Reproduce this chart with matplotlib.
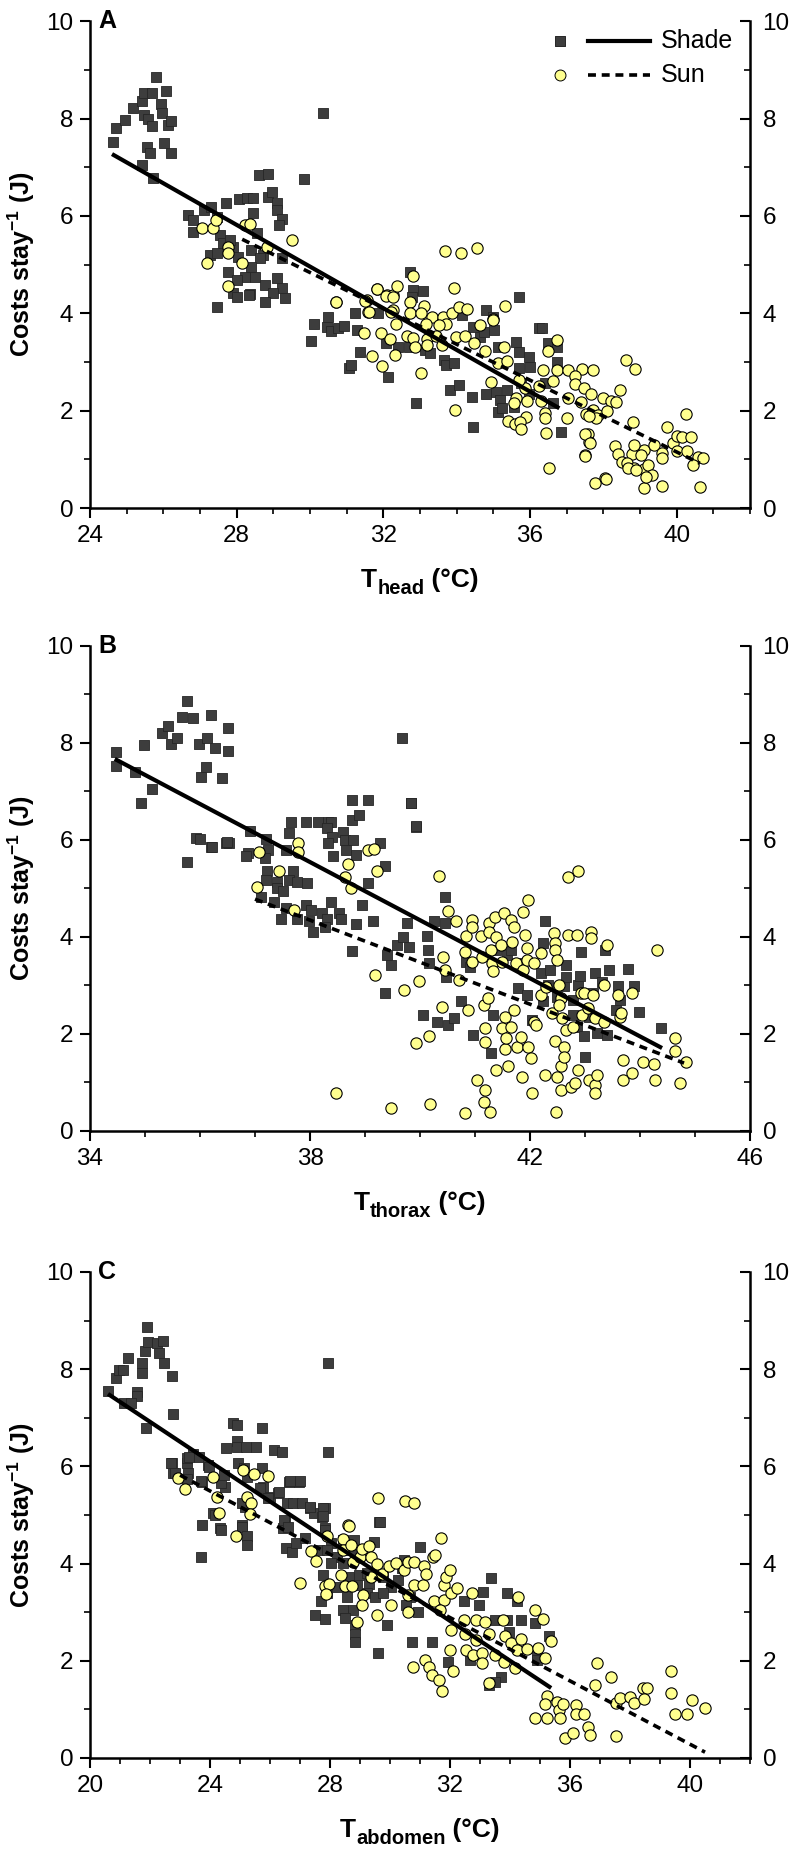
import numpy as np
import matplotlib
matplotlib.use("Agg")
import matplotlib.pyplot as plt
from matplotlib.ticker import MultipleLocator

plt.rcParams['font.family'] = ['Liberation Sans', 'DejaVu Sans']
plt.rcParams['mathtext.fontset'] = 'custom'
plt.rcParams['mathtext.rm'] = 'Liberation Sans'
plt.rcParams['mathtext.bf'] = 'Liberation Sans:bold'
plt.rcParams['mathtext.it'] = 'Liberation Sans:italic'

# ---------------- data ----------------
A_shade = [(24.63,7.52),(24.71,7.80),(24.95,7.97),(25.18,8.21),(25.41,8.36),(25.47,8.52),(25.69,8.52),(25.80,8.85),
 (26.07,8.56),(25.94,8.30),(25.96,8.11),(25.47,8.07),(25.58,8.00),(25.69,7.84),(26.13,7.86),(26.21,7.95),(25.55,7.41),
 (25.64,7.29),(26.02,7.50),(26.21,7.29),(25.41,7.04),(25.73,6.77),(30.36,8.11),(29.84,6.76),
 (26.68,6.02),(26.82,5.91),(26.82,5.67),(27.10,6.12),(27.30,6.18),(27.45,5.98),(27.70,6.26),(28.05,6.34),(28.28,6.36),
 (28.45,6.36),(28.60,6.84),(28.86,6.86),(28.86,6.39),(28.95,6.50),(29.10,6.26),(29.10,6.12),(29.23,5.93),(29.16,5.81),
 (28.45,6.05),(28.55,5.65),(27.55,5.61),(27.64,5.44),(27.90,5.36),(27.82,5.50),(28.04,5.15),(27.27,5.19),(27.45,5.24),
 (28.40,5.30),(28.73,5.19),(28.64,5.13),(29.23,5.13),(28.40,4.95),(27.77,4.85),(28.23,4.75),(28.50,4.75),(29.10,4.72),
 (28.00,4.68),(28.77,4.58),(29.23,4.52),(27.90,4.41),(28.36,4.39),(28.99,4.41),(29.32,4.31),(28.00,4.33),(28.77,4.23),
 (27.45,4.13),(28.34,4.37),
 (30.10,3.79),(30.04,3.44),(30.49,3.92),(30.46,3.72),(30.58,3.63),(30.75,3.69),(30.94,3.74),(31.24,4.00),(31.28,3.65),
 (31.36,3.21),(31.07,2.87),(31.11,2.94),(32.13,2.70),(31.85,4.00),(32.06,3.38),(32.40,3.31),(32.70,3.31),(32.72,4.85),
 (32.82,4.48),(33.09,4.46),(32.79,4.34),(33.13,3.24),(33.28,3.18),(33.65,3.05),(33.72,2.94),(33.93,2.97),(33.82,2.42),
 (34.06,2.53),(32.89,2.15),(34.14,3.96),(34.45,3.72),(34.64,3.52),(34.79,4.07),(35.00,3.93),(35.03,3.66),(34.74,3.62),
 (35.13,3.31),(34.45,1.66),(34.43,2.29),(34.79,2.35),(35.08,2.39),(35.37,2.42),(35.18,2.22),(35.13,1.98),(35.23,2.05),
 (35.71,4.34),(35.62,3.42),(35.71,3.21),(35.96,3.11),(36.00,2.90),(35.71,2.87),(36.25,3.69),(36.49,3.38),(36.74,3.31),
 (36.74,3.00),(36.40,2.56),(35.76,2.56),(35.96,2.35),(35.57,2.08),(36.85,1.57),(36.64,2.15),(36.33,3.70)]

A_sun = [(27.05,5.76),(27.36,5.76),(27.43,5.91),(27.20,5.03),(27.77,5.36),(27.77,5.24),(27.77,4.56),(28.14,5.03),
 (28.23,5.81),(28.36,5.83),(28.84,5.36),(29.52,5.50),(30.71,4.23),(31.55,4.27),(31.58,4.02),(31.83,4.50),(32.10,4.37),
 (32.26,4.07),(32.26,4.37),
 (33.67,5.28),(34.11,5.24),(34.55,5.35),(32.81,4.77),(32.38,4.57),(31.82,4.49),(32.06,4.35),(32.26,4.34),(33.93,4.52),
 (35.31,4.15),(30.70,4.24),(31.51,4.26),(31.60,4.02),(32.21,4.03),(32.72,4.24),(32.73,4.01),(33.11,4.15),(33.02,4.00),
 (33.33,3.93),(33.62,3.92),(33.86,4.00),(34.06,4.13),(34.28,4.08),(34.64,3.77),(35.00,3.89),(34.98,3.86),(32.34,3.78),
 (33.16,3.78),(33.72,3.79),(33.52,3.76),(31.46,3.60),(31.94,3.60),(32.18,3.48),(32.65,3.53),(32.82,3.50),(33.18,3.48),
 (33.43,3.53),(33.99,3.52),(34.22,3.53),(32.87,3.31),(33.20,3.35),(33.59,3.35),(34.48,3.39),(34.77,3.23),(35.28,3.31),
 (31.70,3.13),(32.31,3.14),(31.97,2.92),(33.04,2.78),(35.13,2.98),(35.37,3.03),(36.74,3.46),(36.49,3.22),(36.35,2.83),
 (36.74,2.83),(37.03,2.83),(37.42,2.85),(37.73,2.83),(37.22,2.71),(36.62,2.61),(37.22,2.55),(36.25,2.51),(35.86,2.46),
 (35.71,2.63),(34.94,2.58),(37.47,2.46),(37.03,2.27),(37.66,2.35),(38.00,2.27),(38.20,2.20),(38.44,2.42),(38.34,2.17),
 (37.40,2.17),(35.62,2.27),(35.93,2.20),(36.30,2.20),(35.55,2.15),(36.40,1.96),(37.52,1.94),(37.71,2.01),(37.86,1.91),
 (37.81,1.85),(38.10,1.99),(37.61,1.89),(33.96,2.01),(35.39,1.79),(35.89,1.88),(36.40,1.84),(35.60,1.72),(35.73,1.77),
 (35.76,1.62),(36.43,1.55),(37.00,1.84),(37.59,1.52),(37.61,1.35),(37.49,1.08),(36.51,0.83),(38.61,3.04),(38.86,2.85),
 (38.80,1.76),(38.32,1.28),(38.39,1.12),(38.52,0.95),(38.78,1.12),(39.12,1.20),(39.03,1.09),(38.64,0.92),(38.83,0.82),
 (39.12,0.80),(39.22,0.88),(39.37,1.29),(39.61,1.14),(39.74,1.66),(39.90,1.33),(40.00,1.48),(40.14,1.46),(40.39,1.46),
 (40.26,1.94),(40.00,1.17),(40.29,1.17),(39.61,1.02),(40.58,1.04),(40.73,1.02),(40.44,0.88),(39.32,0.68),(38.05,0.61),
 (37.77,0.51),(38.07,0.59),(39.10,0.41),(39.60,0.45),(40.63,0.43),(39.16,0.63),(38.67,0.82),(38.90,0.78),(38.83,1.29),
 (37.50,1.07),(37.50,1.52),(37.64,1.34)]

B_shade = [(34.47,7.81),(34.47,7.53),(34.82,7.40),(34.98,7.96),(34.93,6.76),(35.13,7.05),(35.31,8.21),(35.42,8.35),
 (35.47,7.98),(35.58,8.10),(35.67,8.54),(35.76,8.87),(35.87,8.52),(35.98,7.98),(36.13,8.10),(36.20,8.58),(36.27,7.90),
 (36.51,8.31),(36.51,7.84),(36.11,7.51),(36.02,7.30),(36.40,7.28),(35.93,6.04),(35.76,5.55),(36.20,5.86),(36.47,5.94),
 (36.53,5.94),(39.67,8.10),(39.84,6.76),(39.93,6.27),
 (36.21,5.86),(36.49,5.95),(36.00,6.01),(36.91,6.19),(36.88,5.74),(36.84,5.66),(37.20,6.01),(37.23,5.79),(37.18,5.62),
 (37.57,5.79),(37.66,6.36),(37.62,6.14),(37.92,6.36),(38.14,6.36),(38.32,6.38),(38.39,6.36),(38.30,6.24),(38.40,6.07),
 (38.32,5.93),(38.60,6.17),(38.63,6.00),(38.79,5.99),(38.76,6.41),(38.89,6.52),(38.77,6.83),(39.06,6.83),(39.83,6.76),
 (39.92,6.29),(38.66,5.79),(38.84,5.69),(38.42,5.66),(39.27,5.93),(39.36,5.46),(37.22,5.35),(37.20,5.17),(37.40,5.14),
 (37.69,5.35),(37.62,5.17),(37.77,5.14),(37.40,5.00),(37.51,4.94),(37.95,5.11),(37.10,4.83),(37.35,4.73),(37.56,4.59),
 (37.48,4.38),(37.77,4.38),(37.92,4.66),(38.01,4.56),(37.98,4.32),(38.05,4.11),(38.21,4.49),(38.30,4.38),(38.27,4.21),
 (38.39,4.73),(38.53,4.49),(38.56,4.38),(38.84,4.27),(38.94,4.66),(39.05,5.11),(39.14,4.32),(38.76,3.72),(39.36,2.84),
 (39.40,3.63),(39.47,3.42),(39.59,3.83),(39.69,3.99),(39.80,3.80),(39.77,4.28),(40.12,4.01),(40.14,3.73),(40.16,3.46),
 (40.25,4.32),(40.45,4.83),(40.45,4.28),(40.48,3.18),(40.06,2.39),(40.31,2.25),(40.51,2.19),(40.61,2.32),(40.74,2.67),
 (40.97,1.98),(41.29,1.60),(41.32,2.39),(40.84,3.49),(40.90,3.39),(41.39,3.73),(41.58,3.63),(41.65,3.73),(41.78,2.94),
 (41.84,3.46),(41.94,2.80),(42.23,3.87),(42.27,4.32),(42.20,3.25),(42.36,3.32),(42.33,3.01),(42.23,2.67),(42.04,2.29),
 (42.49,2.77),(42.62,2.98),(42.66,3.42),(42.66,3.18),(42.79,2.70),(42.88,3.01),(42.92,3.68),(42.79,2.39),(42.85,2.15),
 (42.98,1.95),(43.00,1.53),(43.14,2.84),(43.18,3.25),(43.30,3.08),(43.44,3.32),(43.37,3.73),(43.08,2.36),(43.21,2.01),
 (43.40,1.98),(43.60,2.98),(43.63,2.70),(43.56,2.50),(43.79,3.33),(43.89,2.98),(43.99,2.46),(44.38,2.13),(42.90,3.20)]

B_sun = [(37.07,5.76),(37.04,5.02),(37.43,5.35),(37.70,4.56),(37.79,5.93),(37.79,5.75),(38.63,5.23),(38.69,5.51),
 (38.75,5.00),(39.05,5.79),(39.16,5.81),(39.21,5.36),(38.47,0.78),(39.18,3.22),(39.47,0.47),(39.70,2.91),(39.93,1.81),
 (39.99,3.10),(40.17,1.96),(40.19,0.56),(40.35,5.26),(40.50,4.54),(40.42,3.59),(40.45,3.32),(40.40,2.56),(40.66,4.32),
 (40.71,3.11),(40.82,0.37),(40.84,4.01),(40.82,3.70),(40.87,2.49),(40.94,4.35),(40.94,4.21),(40.94,3.49),(41.03,1.05),
 (41.10,4.01),(41.13,3.59),(41.16,2.60),(41.19,2.12),(41.19,1.84),(41.23,2.74),(41.19,0.85),(41.16,0.60),(41.27,0.40),
 (41.26,4.28),(41.25,4.11),(41.29,3.73),(41.31,3.46),(41.32,3.29),(41.36,4.42),(41.38,3.99),(41.39,1.26),(41.47,3.83),
 (41.49,3.49),(41.52,4.49),(41.55,2.36),(41.49,2.12),(41.55,1.70),(41.56,1.91),(41.60,1.33),(41.65,4.35),(41.65,2.15),
 (41.68,3.90),(41.71,4.21),(41.75,3.46),(41.71,2.49),(41.77,1.74),(41.84,1.94),(41.86,1.12),(41.88,4.52),(41.88,3.32),
 (41.91,4.04),(41.94,3.77),(41.97,4.76),(41.94,3.53),(41.96,1.74),(42.01,1.50),(42.03,0.78),(42.07,3.46),(42.07,2.25),
 (42.10,2.19),(42.20,3.66),(42.20,2.80),(42.27,1.15),(42.29,2.97),(42.40,2.43),(42.43,4.08),(42.46,3.87),(42.46,3.73),
 (42.45,1.86),(42.49,3.53),(42.49,1.12),(42.47,0.40),(42.53,3.01),(42.56,2.74),(42.53,2.60),(42.56,1.33),(42.56,0.85),
 (42.59,2.32),(42.62,1.74),(42.62,1.53),(42.66,2.08),(42.69,4.04),(42.69,5.24),(42.75,0.91),(42.79,2.15),(42.82,0.98),
 (42.85,4.04),(42.88,5.35),(42.88,1.26),(42.92,2.84),(42.95,2.39),(42.98,2.84),(43.05,2.53),(43.08,1.05),(43.11,4.11),
 (43.11,3.97),(43.14,2.80),(43.18,2.32),(43.18,0.95),(43.18,0.78),(43.21,1.15),(43.34,3.01),(43.34,2.25),(43.40,3.83),
 (43.60,2.80),(43.63,2.36),(43.66,2.43),(43.69,1.46),(43.69,1.05),(43.86,2.84),(43.86,1.19),(44.05,1.43),(44.25,1.39),
 (44.28,1.05),(44.31,3.73),(44.64,1.91),(44.64,1.64),(44.73,0.98),(44.83,1.43)]

C_shade = [(20.60,7.55),(20.87,7.82),(20.97,7.98),(21.10,7.98),(21.27,8.23),(21.57,7.53),(21.57,7.45),(21.13,7.30),
 (21.37,7.30),(21.73,8.13),(21.73,7.92),(21.83,8.37),(21.90,8.87),(21.93,8.56),(22.23,8.54),(22.30,8.33),(22.43,8.58),
 (22.47,8.13),(22.73,7.86),(22.77,7.08),(21.87,6.79),(27.93,8.13),(22.73,6.07),(22.77,5.86),(23.23,6.07),(23.27,5.86),
 (23.23,6.17),(23.43,6.26),(23.63,6.19),(23.73,5.68),(23.93,6.03),(23.73,4.79),(24.10,5.04),(24.33,4.73),(24.50,5.58),
 (24.53,6.38),(24.77,6.89),(24.90,6.85),(24.90,6.52),(24.90,6.40),(25.20,6.40),(25.53,6.40),(25.73,6.79),(24.93,6.07),
 (25.23,5.78),(25.07,4.79),(25.17,5.16),(25.73,5.97),(25.77,5.58),(26.00,5.37),(26.13,6.34),(26.40,6.30),(26.27,5.45),
 (26.63,5.68),(26.97,5.68),(26.57,5.25),(26.77,5.25),(27.07,5.25),(27.33,5.14),(27.47,5.04),(27.83,5.14),(27.73,4.96),
 (27.93,6.30),(26.50,4.86),(26.43,4.73),(27.83,4.73),(29.63,4.86),
 (22.70,6.06),(23.30,6.20),(22.83,5.86),(23.23,5.75),(23.69,5.69),(23.95,5.99),(25.14,5.96),(24.35,5.65),(24.48,5.82),
 (25.07,5.24),(25.67,5.55),(25.93,5.34),(26.30,5.48),(26.66,5.69),(26.99,5.69),(27.32,5.16),(27.78,5.14),(27.75,4.97),
 (23.69,4.13),(24.35,4.69),(25.07,4.75),(25.23,4.57),(25.23,4.38),(24.15,5.00),(26.46,4.90),(26.59,4.76),(26.52,4.33),
 (26.72,4.23),(26.85,4.43),(27.18,4.52),(27.84,4.69),(28.04,4.42),(27.64,4.28),(27.91,4.28),(28.44,4.48),(28.80,4.48),
 (29.46,4.45),(29.66,4.86),(28.70,4.28),(28.24,4.14),(28.04,4.01),(27.78,3.77),(28.44,4.01),(28.63,3.73),(28.96,3.77),
 (29.23,3.80),(29.29,3.59),(29.75,3.73),(30.02,3.52),(30.25,3.66),(27.91,3.39),(28.24,3.52),(28.57,3.32),(28.90,3.56),
 (29.23,3.39),(29.49,3.32),(29.75,3.39),(27.71,3.22),(28.44,3.05),(28.77,3.05),(27.51,2.94),(27.84,2.85),(28.50,2.87),
 (28.83,2.74),(28.83,2.56),(28.83,2.39),(29.89,2.74),(29.60,2.15),(30.74,2.39),(31.40,2.39),(31.00,4.35),(30.48,4.07),
 (30.41,3.90),(30.68,3.32),(30.54,3.15),(30.94,3.01),(31.93,1.98),(32.46,3.22),(32.98,3.15),(33.11,3.42),(33.38,3.70),
 (33.90,3.39),(34.23,3.22),(33.51,2.84),(33.90,2.84),(34.37,2.84),(34.83,2.77),(35.29,2.50),(33.97,2.60),(32.65,2.02),
 (33.71,1.67),(33.51,1.57),(33.31,1.50),(34.89,2.15),(34.89,2.02)]

C_sun = [(22.93,5.76),(23.17,5.53),(24.10,5.78),(24.23,5.37),(24.30,5.04),(25.10,5.93),(25.23,5.37),(25.37,5.25),
 (25.33,5.02),(25.47,5.84),(25.93,5.80),(28.60,4.79),(29.60,5.35),(30.50,5.29),(30.80,5.25),(24.85,4.57),
 (27.01,3.61),(27.91,4.57),(28.63,4.77),(28.44,4.50),(28.44,4.28),(28.70,4.38),(27.38,4.25),(27.54,4.06),(27.84,3.53),
 (27.97,3.59),(27.88,3.38),(28.37,3.77),(28.50,3.53),(28.74,3.53),(28.76,4.04),(29.00,4.14),(29.07,4.31),(29.29,4.36),
 (29.36,4.14),(29.09,3.35),(29.07,3.15),(28.90,2.80),(29.36,3.73),(29.58,4.00),(29.73,3.79),(29.95,3.94),(30.02,3.15),
 (29.56,2.94),(30.21,4.02),(30.48,3.87),(30.61,4.04),(30.81,4.04),(30.61,3.35),(30.61,3.01),(30.81,3.56),(31.11,3.56),
 (31.14,3.94),(31.20,3.79),(31.44,4.14),(31.51,4.17),(31.70,4.53),(31.47,3.22),(31.80,3.25),(31.80,3.56),(31.86,3.73),
 (31.99,3.87),(32.02,3.39),(32.23,3.49),(31.66,3.05),(30.78,1.88),(31.18,2.02),(31.31,1.88),(31.40,1.71),(31.64,1.60),
 (31.73,1.37),(32.02,2.63),(31.99,2.22),(32.10,1.78),(32.46,2.84),(32.49,2.56),(32.72,3.39),(32.85,2.84),(32.85,2.43),
 (32.52,2.22),(32.76,2.12),(33.05,2.15),(33.05,1.95),(33.18,2.80),(33.31,2.56),(33.51,2.12),(33.77,2.84),(33.84,2.50),
 (33.81,1.98),(34.04,2.36),(34.23,2.22),(34.27,3.32),(34.37,2.44),(34.56,2.24),(34.17,1.85),(33.31,1.54),(34.83,3.05),
 (35.09,2.85),(34.93,2.26),(35.16,2.05),(35.35,2.41),(35.22,1.28),(35.18,1.12),(35.55,1.16),(35.62,0.99),(35.75,1.11),
 (34.83,0.83),(35.22,0.82),(35.66,0.82),(36.21,1.09),(36.19,0.91),(36.48,0.91),(36.61,0.64),(36.67,0.47),(35.82,0.41),
 (36.11,0.51),(36.90,1.95),(36.84,1.50),(37.37,1.66),(37.53,1.14),(37.53,0.45),(37.66,1.23),(38.00,1.26),(38.12,1.13),
 (38.43,1.43),(38.58,1.43),(38.48,1.21),(39.37,1.78),(39.37,1.33),(39.51,0.91),(39.90,0.91),(40.06,1.19),(40.50,1.02)]

# fitted regression lines (endpoints)
A_fit_shade_x = [24.6, 36.8]; A_fit_shade_y = [7.27, 2.05]
A_fit_sun_x = [28.15, 40.63]; A_fit_sun_y = [5.52, 0.92]
B_fit_shade_x = [34.45, 44.4]; B_fit_shade_y = [7.67, 1.71]
B_fit_sun_x = [37.0, 44.8]; B_fit_sun_y = [4.78, 1.40]
C_fit_shade_x = [20.6, 35.37]; C_fit_shade_y = [7.49, 1.44]
C_fit_sun_x = [23.0, 40.5]; C_fit_sun_y = [5.82, 0.12]

panel_letters = ['A', 'B', 'C']
x_subscripts = ['head', 'thorax', 'abdomen']
x_limits = [(24, 42), (34, 46), (20, 42)]
x_ticks = [[24, 28, 32, 36, 40], [34, 38, 42, 46], [20, 24, 28, 32, 36, 40]]
y_ticks = [0, 2, 4, 6, 8, 10]

shade_sets = [A_shade, B_shade, C_shade]
sun_sets = [A_sun, B_sun, C_sun]
fits = [((A_fit_shade_x, A_fit_shade_y), (A_fit_sun_x, A_fit_sun_y)),
        ((B_fit_shade_x, B_fit_shade_y), (B_fit_sun_x, B_fit_sun_y)),
        ((C_fit_shade_x, C_fit_shade_y), (C_fit_sun_x, C_fit_sun_y))]

# ---------------- figure ----------------
W, H = 798, 1855
fig = plt.figure(figsize=(W / 100, H / 100), dpi=100)
positions = [[0.1128, 0.7261, 0.8271, 0.2625],
             [0.1128, 0.3903, 0.8271, 0.2615],
             [0.1128, 0.0523, 0.8271, 0.2620]]

SQ_COLOR = '#3d3d3d'
SUN_COLOR = '#ffff8f'
FS = 17.5
DASH = (0, (2.2, 1.6))
renderer = fig.canvas.get_renderer()


def compound_xlabel(ax, sub):
    """T with a large bold subscript followed by (°C), centred under the axes."""
    pos = ax.get_position()
    cx = (pos.x0 + pos.x1) / 2 * W
    base = pos.y0 * H - 79
    parts = [('T', 19, 0), (sub, 14.5, -7), (' (°C)', 19, 0)]
    texts, widths = [], []
    for s, size, dy in parts:
        t = fig.text(0, 0, s, fontsize=size, fontweight='bold', ha='left', va='baseline')
        texts.append((t, dy))
        widths.append(t.get_window_extent(renderer).width)
    x = cx - sum(widths) / 2
    for (t, dy), w in zip(texts, widths):
        t.set_position((x / W, (base + dy) / H))
        x += w


for i in range(3):
    ax = fig.add_axes(positions[i])
    sh = np.array(shade_sets[i])
    su = np.array(sun_sets[i])
    ax.scatter(sh[:, 0], sh[:, 1], marker='s', s=62, c=SQ_COLOR,
               edgecolors='#262626', linewidths=0.6, zorder=2)
    ax.scatter(su[:, 0], su[:, 1], marker='o', s=66, c=SUN_COLOR,
               edgecolors='black', linewidths=0.8, zorder=3)
    (fsx, fsy), (fux, fuy) = fits[i]
    ax.plot(fsx, fsy, color='black', lw=3.0, solid_capstyle='butt', zorder=4)
    ax.plot(fux, fuy, color='black', lw=2.6, ls=DASH, zorder=4)

    ax.set_xlim(*x_limits[i])
    ax.set_ylim(0, 10)
    ax.set_xticks(x_ticks[i])
    ax.xaxis.set_minor_locator(MultipleLocator(1))
    ax.set_yticks(y_ticks)
    ax.yaxis.set_minor_locator(MultipleLocator(1))
    for s in ['left', 'bottom']:
        ax.spines[s].set_linewidth(1.8)
    ax.spines['top'].set_visible(False)
    ax.spines['right'].set_visible(False)
    ax.tick_params(axis='both', which='major', direction='out', length=7,
                   width=1.5, labelsize=FS, pad=5)
    ax.tick_params(axis='both', which='minor', direction='out', length=4, width=1.2)

    ax2 = ax.twinx()
    ax2.set_ylim(0, 10)
    ax2.set_yticks(y_ticks)
    ax2.yaxis.set_minor_locator(MultipleLocator(1))
    for s in ['left', 'top', 'bottom']:
        ax2.spines[s].set_visible(False)
    ax2.spines['right'].set_linewidth(1.8)
    ax2.tick_params(axis='y', which='major', direction='in', length=7, width=1.5,
                    labelsize=FS, pad=9)
    ax2.tick_params(axis='y', which='minor', direction='in', length=4, width=1.2)

    ax.set_ylabel(r'Costs stay$^{\mathbf{-1}}$ (J)', fontsize=18,
                  fontweight='bold', labelpad=7)
    compound_xlabel(ax, x_subscripts[i])
    ax.text(0.012, 1.0, panel_letters[i], transform=ax.transAxes, fontsize=18,
            fontweight='bold', ha='left', va='center')

    if i == 0:
        for yy, mk, mfc, ls, lab in [(0.959, 's', SQ_COLOR, '-', 'Shade'),
                                      (0.889, 'o', SUN_COLOR, DASH, 'Sun')]:
            ax.scatter([0.712], [yy], marker=mk, s=62, c=mfc,
                       edgecolors='#262626' if mk == 's' else 'black',
                       linewidths=0.7, transform=ax.transAxes, zorder=5)
            ax.plot([0.755, 0.848], [yy, yy], color='black',
                    lw=3.0 if ls == '-' else 2.6, ls=ls, transform=ax.transAxes,
                    zorder=5)
            ax.text(0.865, yy, lab, transform=ax.transAxes, fontsize=18,
                    ha='left', va='center')

fig.savefig('out.png', dpi=100)
